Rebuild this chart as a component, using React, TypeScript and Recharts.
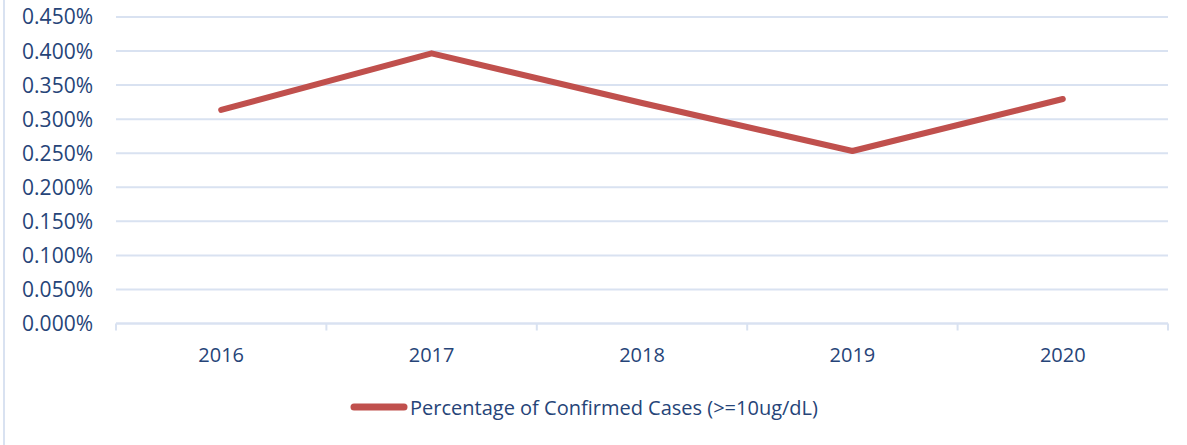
import React from "react";
import { LineChart, Line, XAxis, YAxis, CartesianGrid, Legend } from "recharts";

const years = ["2016", "2017", "2018", "2019", "2020"];
const confirmedPct = [0.3135, 0.3967, 0.3237, 0.2533, 0.3296];
const yTicks = [0, 0.05, 0.1, 0.15, 0.2, 0.25, 0.3, 0.35, 0.4, 0.45];
const seriesName = "Percentage of Confirmed Cases (>=10ug/dL)";

const data = years.map((year, i) => ({ year, value: confirmedPct[i] }));

const W = 1187;
const H = 445;
const PLOT_LEFT = 116;
const PLOT_RIGHT = 1168;
const BAND = (PLOT_RIGHT - PLOT_LEFT) / years.length;

const TEXT = "#264478";
const GRID = "#d9e2f1";
const RED = "#c0504d";
const FONT = "'Open Sans', sans-serif";

const XTick = (props: any) => {
  const { x, y, payload, index } = props;
  return (
    <g>
      <line x1={x - BAND / 2} x2={x - BAND / 2} y1={y} y2={y + 7} stroke={GRID} strokeWidth={2} />
      {index === years.length - 1 && (
        <line x1={x + BAND / 2} x2={x + BAND / 2} y1={y} y2={y + 7} stroke={GRID} strokeWidth={2} />
      )}
      <text x={x} y={y + 38} textAnchor="middle" fill={TEXT} fontSize={20} fontFamily={FONT}>
        {payload.value}
      </text>
    </g>
  );
};

const LegendBox = () => (
  <div style={{ display: "flex", justifyContent: "center", alignItems: "center", height: 60 }}>
    <svg width={58} height={10}>
      <line x1={4} x2={54} y1={5} y2={5} stroke={RED} strokeWidth={7} strokeLinecap="round" />
    </svg>
    <span style={{ color: TEXT, fontSize: 20, fontFamily: FONT, marginLeft: 2 }}>{seriesName}</span>
  </div>
);

export default function App() {
  return (
    <div style={{ position: "absolute", left: 0, top: 0, width: W, height: H, background: "#fff" }}>
      <div style={{ position: "absolute", left: 3, top: 0, width: 2, height: H, background: GRID }} />
      <LineChart width={W} height={H} data={data} margin={{ top: 17, right: W - PLOT_RIGHT, left: 0, bottom: 8 }}>
        <CartesianGrid horizontal vertical={false} stroke={GRID} strokeWidth={2} />
        <XAxis
          dataKey="year"
          height={53.5}
          padding={{ left: BAND / 2, right: BAND / 2 }}
          axisLine={{ stroke: GRID, strokeWidth: 2 }}
          tickLine={false}
          tickSize={0}
          tickMargin={0}
          tick={<XTick />}
          interval={0}
        />
        <YAxis
          width={PLOT_LEFT}
          domain={[0, 0.45]}
          ticks={yTicks}
          axisLine={false}
          tickLine={false}
          tickSize={0}
          tickMargin={23}
          tickFormatter={(v: number) => v.toFixed(3) + "%"}
          tick={{ fill: TEXT, fontSize: 21, fontFamily: FONT }}
        />
        <Legend verticalAlign="bottom" content={<LegendBox />} />
        <Line
          dataKey="value"
          name={seriesName}
          stroke={RED}
          strokeWidth={6}
          strokeLinecap="round"
          strokeLinejoin="round"
          dot={false}
          activeDot={false}
          isAnimationActive={false}
        />
      </LineChart>
    </div>
  );
}
